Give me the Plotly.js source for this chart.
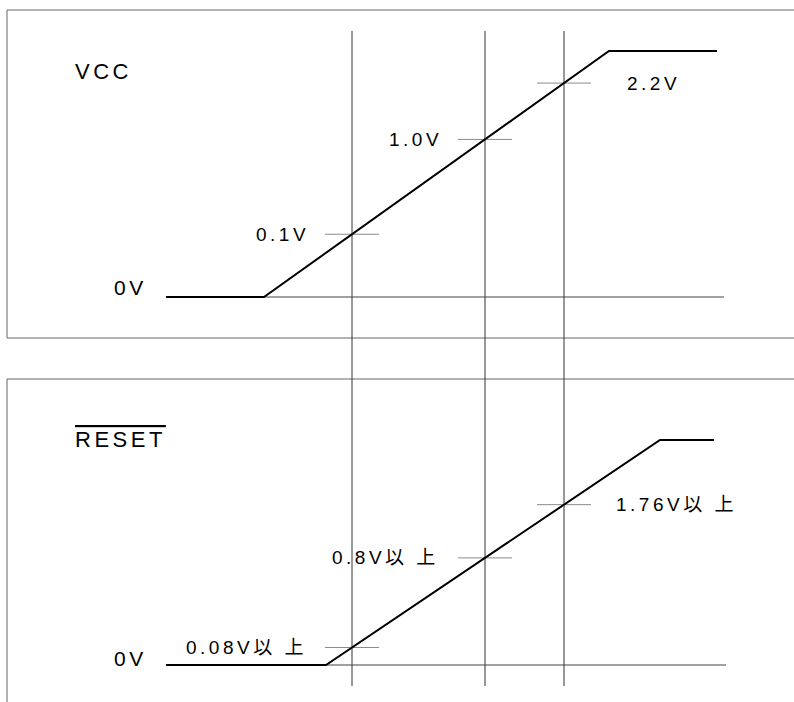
<!DOCTYPE html>
<html>
<head>
<meta charset="utf-8">
<script src="https://cdn.plot.ly/plotly-3.0.1.min.js"></script>
<style>
  html, body { margin: 0; padding: 0; background: #fff; }
  #chart { width: 794px; height: 702px; }
  .annotation-text { letter-spacing: 3.5px; }
</style>
</head>
<body>
<div id="chart"></div>
<script>
// ---- data (time in arbitrary units, level normalised 0..1) ----
const signalNames = ['VCC', 'RESET'];
const zeroLabel = '0V';
const markerTimes = [18.6, 31.9, 39.8];

const vccTime = [0, 9.8, 44.3, 55.1];
const vccLevel = [0, 0, 1, 1];
const vccBaselineEnd = 55.8;
const vccMarkLabels = ['0.1V', '1.0V', '2.2V'];

const resetTime = [0, 16, 49.4, 54.8];
const resetLevel = [0, 0, 1, 1];
const resetBaselineEnd = 56;
const resetMarkLabels = ['0.08V以 上', '0.8V以 上', '1.76V以 上'];

// ---- helpers ----
function interp(t, ts, ls) {
  for (let i = 0; i < ts.length - 1; i++) {
    if (t >= ts[i] && t <= ts[i + 1]) {
      const f = (t - ts[i]) / (ts[i + 1] - ts[i]);
      return ls[i] + f * (ls[i + 1] - ls[i]);
    }
  }
  return ls[ls.length - 1];
}
const FONT = 'Liberation Sans, Arial, "Noto Sans CJK JP", sans-serif';
const TXT = '#000';
const tickHalf = 2.7;

function tickTrace(ts, ls, yaxis) {
  const x = [], y = [];
  markerTimes.forEach(m => {
    const L = interp(m, ts, ls);
    x.push(m - tickHalf, m + tickHalf, null);
    y.push(L, L, null);
  });
  return { x, y, yaxis, mode: 'lines', line: { color: '#8a8a8a', width: 1 }, hoverinfo: 'skip' };
}

const traces = [
  // baselines
  { x: [vccTime[1], vccBaselineEnd], y: [0, 0], yaxis: 'y', mode: 'lines',
    line: { color: '#444', width: 1 }, hoverinfo: 'skip' },
  { x: [resetTime[1], resetBaselineEnd], y: [0, 0], yaxis: 'y2', mode: 'lines',
    line: { color: '#444', width: 1 }, hoverinfo: 'skip' },
  // ticks
  tickTrace(vccTime, vccLevel, 'y'),
  tickTrace(resetTime, resetLevel, 'y2'),
  // signals
  { x: vccTime, y: vccLevel, yaxis: 'y', mode: 'lines',
    line: { color: '#000', width: 2 }, hoverinfo: 'skip' },
  { x: resetTime, y: resetLevel, yaxis: 'y2', mode: 'lines',
    line: { color: '#000', width: 2 }, hoverinfo: 'skip' }
];

const shapes = [
  // panel frames
  { type: 'rect', xref: 'paper', yref: 'paper', x0: 7 / 794, x1: 1.05, y0: 1 - 338 / 702, y1: 1 - 10 / 702,
    line: { color: '#666', width: 1 }, layer: 'below' },
  { type: 'rect', xref: 'paper', yref: 'paper', x0: 7 / 794, x1: 1.05, y0: -0.05, y1: 1 - 379 / 702,
    line: { color: '#666', width: 1 }, layer: 'below' }
];
markerTimes.forEach(m => {
  shapes.push({ type: 'line', xref: 'x', yref: 'paper', x0: m, x1: m,
    y0: 1 - 686 / 702, y1: 1 - 31 / 702, line: { color: '#333', width: 1 }, layer: 'below' });
});

const annotations = [];
function ann(o) {
  annotations.push(Object.assign({ showarrow: false, font: { family: FONT, size: 19, color: TXT } }, o));
}
// signal names
ann({ text: signalNames[0], xref: 'paper', yref: 'paper', x: 73 / 794, y: 1 - 71 / 702,
      xanchor: 'left', yanchor: 'middle', font: { family: FONT, size: 22, color: TXT } });
ann({ text: signalNames[1], xref: 'paper', yref: 'paper', x: 73 / 794, y: 1 - 440 / 702,
      xanchor: 'left', yanchor: 'middle', font: { family: FONT, size: 22, color: TXT, lineposition: 'over' } });
// zero labels
ann({ text: zeroLabel, xref: 'x', yref: 'y', x: vccTime[0], y: 0, xanchor: 'right', yanchor: 'middle',
      xshift: -17, yshift: 10, font: { family: FONT, size: 21, color: TXT } });
ann({ text: zeroLabel, xref: 'x', yref: 'y2', x: resetTime[0], y: 0, xanchor: 'right', yanchor: 'middle',
      xshift: -17, yshift: 7, font: { family: FONT, size: 21, color: TXT } });
// marker labels
const vccSides = [['right', -41.5], ['right', -41.5], ['left', 61]];
const resetSides = [['right', -43.5], ['right', -44.5], ['left', 50]];
markerTimes.forEach((m, i) => {
  ann({ text: vccMarkLabels[i], xref: 'x', yref: 'y', x: m, y: interp(m, vccTime, vccLevel),
        xanchor: vccSides[i][0], xshift: vccSides[i][1], yanchor: 'middle' });
  ann({ text: resetMarkLabels[i], xref: 'x', yref: 'y2', x: m, y: interp(m, resetTime, resetLevel),
        xanchor: resetSides[i][0], xshift: resetSides[i][1], yanchor: 'middle' });
});

const layout = {
  width: 794, height: 702,
  margin: { l: 0, r: 0, t: 0, b: 0, pad: 0 },
  paper_bgcolor: '#fff', plot_bgcolor: '#fff',
  showlegend: false,
  xaxis: { range: [-16.6, 62.8], visible: false, fixedrange: true },
  yaxis: { range: [(297 - 702) / 246, 297 / 246], visible: false, fixedrange: true, domain: [0, 1] },
  yaxis2: { range: [(665 - 702) / 225, 665 / 225], visible: false, fixedrange: true, overlaying: 'y', domain: [0, 1] },
  shapes, annotations
};

Plotly.newPlot('chart', traces, layout, { staticPlot: true, displayModeBar: false });
</script>
</body>
</html>
